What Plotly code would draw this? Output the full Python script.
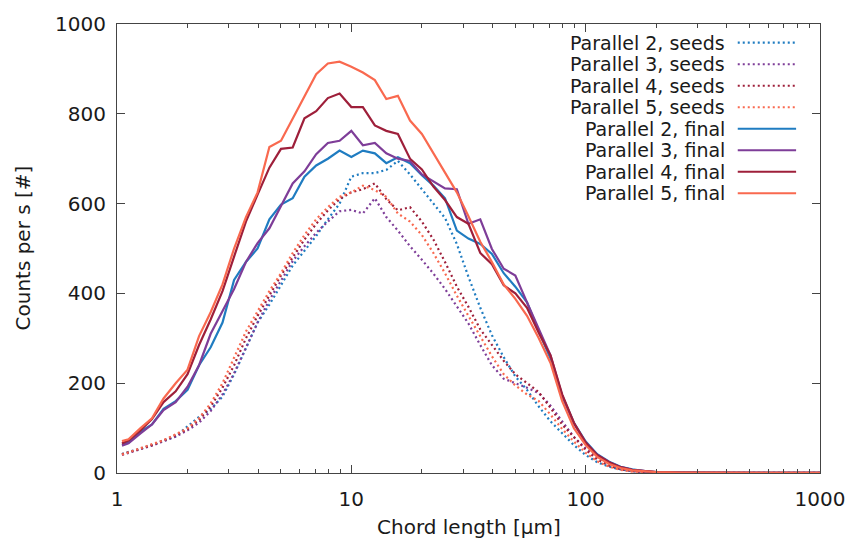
import plotly.graph_objects as go

# Chord length bins [µm]
chord = [1.05, 1.12, 1.26, 1.41, 1.58, 1.78, 2.0, 2.24, 2.51, 2.82, 3.16, 3.55, 3.98, 4.47,
         5.01, 5.62, 6.31, 7.08, 7.94, 8.91, 10.0, 11.2, 12.6, 14.1, 15.8, 17.8, 20.0, 22.4,
         25.1, 28.2, 31.6, 35.5, 39.8, 44.7, 50.1, 56.2, 63.1, 70.8, 79.4, 89.1, 100, 112,
         126, 141, 158, 178, 200, 251, 316, 398, 501, 631, 794, 1000]

p2_seeds = [42, 47, 54, 62, 71, 82, 103, 125, 142, 170, 220, 280, 335, 375, 420, 462, 495, 528,
            565, 600, 660, 668, 668, 675, 695, 665, 632, 600, 568, 510, 437, 368, 307, 258, 215,
            185, 148, 115, 88, 62, 40, 24, 14, 8, 4, 2, 1, 0.5, 0.3, 0.2, 0.1, 0.1, 0.1, 0.1]
p3_seeds = [40, 45, 53, 61, 70, 81, 95, 112, 138, 175, 222, 280, 335, 385, 430, 472, 505, 535,
            560, 583, 586, 578, 612, 570, 540, 505, 475, 444, 410, 370, 333, 285, 240, 210, 200,
            190, 178, 150, 115, 80, 55, 35, 20, 10, 5, 2, 1, 0.5, 0.3, 0.2, 0.1, 0.1, 0.1, 0.1]
p4_seeds = [42, 46, 54, 62, 72, 84, 98, 118, 148, 190, 240, 300, 350, 395, 440, 480, 520, 555,
            585, 610, 625, 632, 645, 610, 585, 592, 560, 520, 470, 415, 370, 320, 285, 250, 220,
            200, 180, 145, 108, 80, 52, 30, 16, 8, 4, 2, 1, 0.5, 0.3, 0.2, 0.1, 0.1, 0.1, 0.1]
p5_seeds = [41, 46, 54, 63, 73, 86, 100, 122, 155, 200, 255, 315, 360, 405, 445, 490, 530, 565,
            592, 615, 625, 640, 630, 615, 578, 560, 530, 490, 445, 395, 350, 305, 260, 220, 195,
            175, 160, 130, 98, 70, 45, 26, 14, 7, 3, 2, 1, 0.5, 0.3, 0.2, 0.1, 0.1, 0.1, 0.1]

p2_final = [63, 68, 92, 108, 143, 160, 185, 240, 280, 335, 430, 470, 500, 565, 598, 612, 660, 685,
            700, 718, 704, 718, 712, 690, 703, 690, 663, 640, 612, 540, 522, 510, 488, 445, 415,
            380, 315, 255, 172, 112, 70, 42, 25, 14, 8, 4, 2, 1, 0.5, 0.3, 0.2, 0.1, 0.1, 0.1]
p3_final = [61, 66, 88, 108, 140, 158, 192, 240, 310, 362, 410, 470, 512, 545, 595, 645, 672, 710,
            735, 740, 762, 730, 735, 712, 700, 695, 665, 650, 634, 632, 555, 565, 499, 455, 440,
            380, 320, 262, 172, 110, 68, 40, 24, 13, 7, 4, 2, 1, 0.5, 0.3, 0.2, 0.1, 0.1, 0.1]
p4_final = [66, 72, 95, 120, 158, 182, 220, 285, 342, 405, 482, 560, 620, 680, 722, 725, 790, 806,
            835, 845, 815, 815, 774, 762, 755, 700, 676, 638, 608, 570, 555, 490, 465, 418, 400,
            368, 312, 262, 175, 112, 68, 40, 24, 13, 7, 4, 2, 1, 0.5, 0.3, 0.2, 0.1, 0.1, 0.1]
p5_final = [71, 75, 100, 122, 166, 200, 230, 305, 358, 420, 500, 570, 625, 726, 740, 790, 840, 888,
            912, 916, 905, 892, 875, 833, 840, 785, 755, 712, 672, 625, 572, 515, 470, 420, 388,
            350, 300, 245, 160, 100, 62, 36, 20, 11, 6, 4, 2, 1, 0.5, 0.3, 0.2, 0.1, 0.1, 0.1]

names = ["Parallel 2, seeds", "Parallel 3, seeds", "Parallel 4, seeds", "Parallel 5, seeds",
         "Parallel 2, final", "Parallel 3, final", "Parallel 4, final", "Parallel 5, final"]
series = [p2_seeds, p3_seeds, p4_seeds, p5_seeds, p2_final, p3_final, p4_final, p5_final]
colors = ["#1f7cc1", "#7e3d98", "#9e1f3a", "#f9694f"] * 2
dashes = ["2px,3px"] * 4 + ["solid"] * 4

FONT = "DejaVu Sans"
TXT = "#1a1a1a"

fig = go.Figure()
for nm, ys, c, d in zip(names, series, colors, dashes):
    fig.add_trace(go.Scatter(x=chord, y=ys, mode="lines", name=nm,
                             line=dict(color=c, width=2.2, dash=d), showlegend=False))

# gnuplot-style legend: right-aligned text with sample on the right
row_y = [0.9584, 0.9104, 0.8625, 0.8146, 0.7667, 0.7188, 0.6709, 0.6230]
shapes = []
annotations = []
for nm, c, d, yy in zip(names, colors, dashes, row_y):
    shapes.append(dict(type="line", xref="paper", yref="paper", x0=0.883, x1=0.966, y0=yy, y1=yy,
                       line=dict(color=c, width=2.2, dash=d)))
    annotations.append(dict(text=nm, xref="paper", yref="paper", x=0.866, y=yy, xanchor="right",
                            yanchor="middle", showarrow=False, borderpad=0,
                            font=dict(family=FONT, size=19, color=TXT)))

annotations.append(dict(text="Chord length [µm]", xref="paper", yref="paper", x=0.5, y=0,
                        xanchor="center", yanchor="middle", yshift=-54, showarrow=False,
                        font=dict(family=FONT, size=20, color=TXT)))
annotations.append(dict(text="Counts per s [#]", xref="paper", yref="paper", x=0, y=0.5,
                        xanchor="center", yanchor="middle", xshift=-95, textangle=-90, showarrow=False,
                        font=dict(family=FONT, size=20, color=TXT)))

axis_common = dict(showgrid=False, zeroline=False, showline=True, linecolor="#444", linewidth=1,
                   mirror="allticks", ticks="inside", tickcolor="#444", tickwidth=1, ticklen=8,
                   tickfont=dict(family=FONT, size=20, color=TXT))

fig.update_layout(
    width=857, height=548,
    margin=dict(l=117, r=31, t=16, b=75),
    paper_bgcolor="white", plot_bgcolor="white",
    shapes=shapes, annotations=annotations,
    xaxis=dict(type="log", range=[0, 3], tickvals=[1, 10, 100, 1000],
               ticktext=["1", "10", "100", "1000"], ticklabelstandoff=8,
               minor=dict(ticks="inside", ticklen=4, tickcolor="#444", dtick="D1", showgrid=False),
               **axis_common),
    yaxis=dict(range=[0, 1000], dtick=200, ticklabelstandoff=6, **axis_common),
)

fig.write_html("out.html")
